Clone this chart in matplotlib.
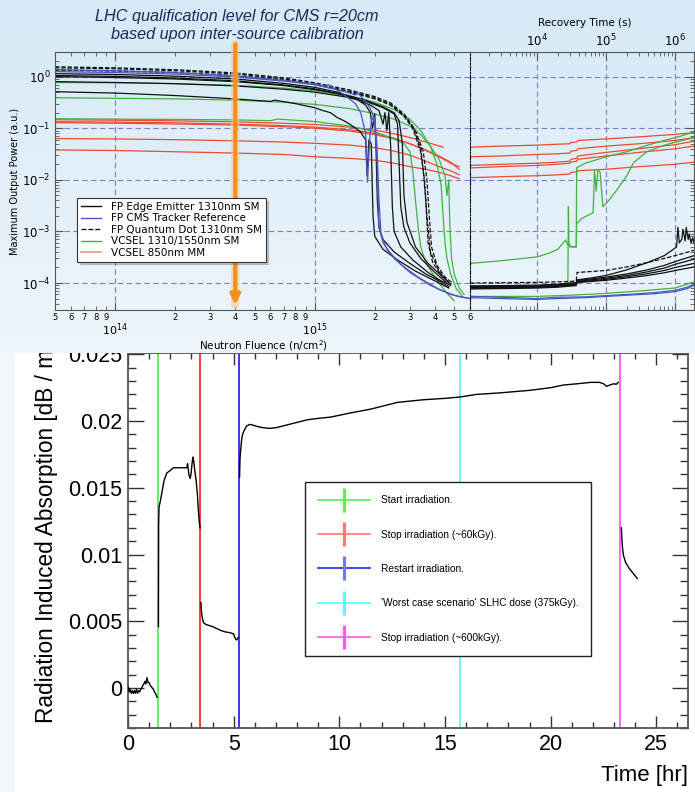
import numpy as np
import matplotlib
matplotlib.use("Agg")
import matplotlib.pyplot as plt
from matplotlib.lines import Line2D
from matplotlib.patches import Rectangle
from matplotlib.colors import LinearSegmentedColormap
from matplotlib.ticker import LogLocator, FuncFormatter, NullFormatter, MultipleLocator

W, H = 695, 792

#### top panel data: fluence in 1e14 n/cm^2, power in a.u. ####
# FP edge emitters (black solid)
edge_F = [
    [0.5, 1, 2, 4, 7, 10, 13, 16, 18, 19, 19.5, 20, 20.3, 20.6, 21, 22, 25, 30, 36, 42, 47],
    [0.5, 1, 2, 4, 7, 10, 13, 16, 19, 21, 22, 22.5, 23, 23.5, 24, 24.5, 25, 27, 31, 37, 43, 48],
    [0.5, 1, 2, 4, 7, 10, 14, 18, 22, 25, 26, 26.5, 27, 28, 30, 34, 40, 46],
    [0.5, 1, 2, 4, 6, 6.3, 8, 10, 11, 12, 13, 14, 15, 16, 17, 17.5, 18, 18.3, 18.7, 19.2, 19.6, 20, 22, 26, 32, 40, 47],
    [0.5, 1, 2, 4, 7, 10, 14, 18, 22, 25, 26.5, 27.5, 28, 29, 32, 37, 43, 48],
]
edge_P = [
    [1.14, 1.1, 1.02, 0.9, 0.74, 0.62, 0.5, 0.38, 0.28, 0.2, 0.1, 0.19, 0.04, 4e-3, 1.2e-3, 7e-4, 4e-4, 2.4e-4, 1.5e-4, 1.1e-4, 8.5e-5],
    [1.05, 1.01, 0.94, 0.83, 0.69, 0.58, 0.47, 0.37, 0.28, 0.22, 0.12, 0.2, 0.09, 0.2, 0.05, 3e-3, 1e-3, 5e-4, 2.8e-4, 1.6e-4, 1.1e-4, 9e-5],
    [0.8, 0.77, 0.73, 0.66, 0.57, 0.5, 0.41, 0.33, 0.25, 0.19, 0.12, 0.02, 3e-3, 1.2e-3, 6e-4, 3e-4, 1.6e-4, 1e-4],
    [0.51, 0.48, 0.43, 0.37, 0.33, 0.35, 0.3, 0.25, 0.22, 0.2, 0.16, 0.14, 0.12, 0.1, 0.085, 0.07, 0.06, 0.012, 0.06, 0.05, 2e-3, 8e-4, 4.5e-4, 2.8e-4, 1.7e-4, 1.1e-4, 8e-5],
    [1.0, 0.96, 0.9, 0.8, 0.67, 0.56, 0.45, 0.35, 0.26, 0.2, 0.14, 0.05, 5e-3, 1.5e-3, 5e-4, 2.4e-4, 1.4e-4, 9.5e-5],
]
# FP CMS tracker reference (blue)
cms_F = [
    [0.5, 1, 2, 4, 7, 10, 11.5, 11.7, 14, 16, 17, 18, 18.4, 18.8, 19.3, 20, 20.5, 21, 22, 25, 30, 38, 48, 60],
    [0.5, 1, 2, 4, 7, 10, 14, 16, 16.3, 18, 19, 20, 20.5, 21, 21.5, 23, 27, 33, 42, 52, 60],
]
cms_P = [
    [1.37, 1.3, 1.2, 1.03, 0.85, 0.72, 0.64, 0.7, 0.45, 0.3, 0.2, 0.08, 9e-3, 0.05, 0.17, 0.12, 0.03, 1.2e-3, 6e-4, 3e-4, 1.6e-4, 9e-5, 6e-5, 5e-5],
    [1.25, 1.2, 1.12, 0.98, 0.82, 0.7, 0.52, 0.44, 0.5, 0.33, 0.24, 0.15, 0.05, 4e-3, 9e-4, 4.5e-4, 2.3e-4, 1.3e-4, 7.5e-5, 5.5e-5, 5e-5],
]
# FP quantum dot (black dashed)
qd_F = [
    [0.5, 1, 2, 4, 7, 10, 15, 20, 24, 28, 31, 34, 35, 36, 37, 39, 43, 47],
    [0.5, 1, 2, 4, 7, 10, 15, 20, 24, 28, 32, 35, 36.5, 37.5, 38.5, 41, 45, 49],
    [0.5, 1, 2, 4, 7, 10, 15, 20, 24, 28, 31, 34, 35.5, 36.5, 38, 42, 46],
]
qd_P = [
    [1.55, 1.48, 1.36, 1.18, 0.95, 0.76, 0.55, 0.41, 0.31, 0.19, 0.11, 0.04, 0.015, 4e-3, 6e-4, 2.5e-4, 1.4e-4, 1.05e-4],
    [1.48, 1.42, 1.3, 1.13, 0.9, 0.72, 0.52, 0.39, 0.29, 0.18, 0.09, 0.035, 0.01, 2e-3, 5e-4, 2.2e-4, 1.3e-4, 1e-4],
    [1.33, 1.28, 1.2, 1.05, 0.86, 0.7, 0.5, 0.37, 0.28, 0.17, 0.1, 0.035, 0.01, 2e-3, 4e-4, 1.7e-4, 1.1e-4],
]
# VCSEL 1310/1550 SM (green)
vsm_F = [
    [0.5, 1, 2, 4, 7, 10, 15, 20, 25, 30, 34, 38, 41, 43, 44, 45, 46, 48, 51, 55],
    [0.5, 1, 2, 4, 7, 10, 15, 20, 25, 30, 34, 38, 42, 45, 46, 47, 47.5, 48.5, 50, 53, 56],
    [0.5, 1, 2, 4, 6, 6.5, 10, 15, 20, 25, 28, 30, 31, 32, 33, 34, 36, 40, 45, 50],
]
vsm_P = [
    [0.77, 0.76, 0.73, 0.68, 0.6, 0.53, 0.42, 0.32, 0.23, 0.15, 0.09, 0.045, 0.02, 8e-3, 2e-3, 6e-4, 3e-4, 1.5e-4, 8e-5, 5.5e-5],
    [0.39, 0.38, 0.37, 0.35, 0.32, 0.29, 0.24, 0.19, 0.15, 0.11, 0.075, 0.045, 0.025, 0.012, 5e-3, 0.01, 1.5e-3, 3e-4, 1.5e-4, 8e-5, 6e-5],
    [0.153, 0.15, 0.148, 0.145, 0.14, 0.15, 0.135, 0.11, 0.085, 0.062, 0.05, 0.035, 0.015, 4e-3, 1.2e-3, 5e-4, 2.5e-4, 1.3e-4, 7e-5, 4.5e-5],
]
# VCSEL 850nm MM (red)
vmm_F = [
    [0.5, 1, 2, 4, 7, 10, 15, 20, 25, 30, 35, 40, 44],
    [0.5, 1, 2, 4, 7, 10, 15, 20, 25, 30, 36, 42, 48, 53],
    [0.5, 1, 2, 4, 7, 10, 15, 20, 25, 30, 36, 42, 48, 53],
    [0.5, 1, 2, 4, 7, 10, 15, 20, 25, 30, 36, 42, 48, 53],
    [0.5, 1, 2, 4, 7, 10, 15, 20, 25, 30, 36, 42, 48, 53],
]
vmm_P = [
    [0.146, 0.143, 0.139, 0.133, 0.125, 0.118, 0.105, 0.092, 0.078, 0.066, 0.056, 0.048, 0.043],
    [0.134, 0.131, 0.127, 0.12, 0.112, 0.105, 0.093, 0.08, 0.064, 0.05, 0.037, 0.028, 0.021, 0.018],
    [0.128, 0.125, 0.121, 0.115, 0.107, 0.1, 0.088, 0.075, 0.062, 0.05, 0.038, 0.029, 0.022, 0.016],
    [0.063, 0.062, 0.06, 0.057, 0.054, 0.051, 0.047, 0.042, 0.036, 0.03, 0.023, 0.018, 0.015, 0.0125],
    [0.038, 0.037, 0.035, 0.033, 0.031, 0.028, 0.026, 0.024, 0.021, 0.018, 0.016, 0.014, 0.012, 0.0105],
]

#### recovery (right part), time in s ####
rec_t = [1070, 3e3, 1e4, 2e4, 3e4, 3.7e4, 3.8e4, 6e4, 1e5, 2e5, 4e5, 7e5, 1e6, 1.4e6, 1.88e6]
rec_edge_P = [
    [8.5e-5, 8.6e-5, 8.8e-5, 9.2e-5, 9.6e-5, 9.8e-5, 1.12e-4, 1.2e-4, 1.3e-4, 1.5e-4, 1.8e-4, 2.2e-4, 2.6e-4, 3e-4, 3.4e-4],
    [8.2e-5, 8.3e-5, 8.5e-5, 8.9e-5, 9.3e-5, 9.5e-5, 1.08e-4, 1.15e-4, 1.24e-4, 1.4e-4, 1.65e-4, 1.95e-4, 2.3e-4, 2.6e-4, 2.9e-4],
    [8e-5, 8.1e-5, 8.3e-5, 8.6e-5, 9e-5, 9.2e-5, 1.05e-4, 1.1e-4, 1.18e-4, 1.32e-4, 1.52e-4, 1.75e-4, 2e-4, 2.2e-4, 2.4e-4],
    [7.7e-5, 7.8e-5, 8e-5, 8.3e-5, 8.7e-5, 8.9e-5, 1.02e-4, 1.07e-4, 1.13e-4, 1.25e-4, 1.4e-4, 1.58e-4, 1.75e-4, 1.9e-4, 2.05e-4],
]
rec_noisy_t = [1070, 3e3, 1e4, 2e4, 3e4, 3.7e4, 3.8e4, 6e4, 1e5, 2e5, 4e5, 7e5, 9e5, 1.05e6, 1.1e6, 1.15e6,
               1.25e6, 1.3e6, 1.4e6, 1.45e6, 1.55e6, 1.6e6, 1.7e6, 1.8e6, 1.88e6]
rec_noisy_P = [8.8e-5, 8.9e-5, 9.1e-5, 9.5e-5, 1e-4, 1.02e-4, 1.15e-4, 1.25e-4, 1.4e-4, 1.8e-4, 2.5e-4, 3.4e-4, 4.3e-4,
               5e-4, 1.2e-3, 6e-4, 7e-4, 1.1e-3, 6.5e-4, 1.2e-3, 7e-4, 9e-4, 6e-4, 7.5e-4, 6e-4]
rec_qd_t = [1070, 1e4, 3e4, 3.7e4, 3.8e4, 1e5, 2e5, 4e5, 7e5, 1e6, 1.88e6]
rec_qd_P = [1e-4, 1.03e-4, 1.07e-4, 1.1e-4, 1.6e-4, 1.75e-4, 2.05e-4, 2.5e-4, 3e-4, 3.4e-4, 4.3e-4]
rec_cms_t = [1070, 3e3, 1e4, 2e4, 5e4, 1e5, 2e5, 5e5, 1e6, 1.5e6, 1.88e6]
rec_cms_P = [
    [5.2e-5, 5e-5, 4.8e-5, 5e-5, 5.2e-5, 5.5e-5, 5.8e-5, 6.2e-5, 6.8e-5, 7.8e-5, 9e-5],
    [5.5e-5, 5.3e-5, 5e-5, 5.3e-5, 5.4e-5, 5.7e-5, 6e-5, 6.5e-5, 7.2e-5, 8.3e-5, 9.5e-5],
]
rec_vsm_t = [
    [1070, 3e3, 1e4, 1.5e4, 2e4, 2.6e4, 2.8e4, 3.3e4, 3.7e4, 3.75e4, 5e4, 1e5, 2e5, 4e5, 7e5, 1.2e6, 1.88e6],
    [1070, 3e3, 1e4, 2e4, 2.8e4, 2.85e4, 2.9e4, 3e4, 3.7e4, 3.75e4, 4.5e4, 6.5e4, 6.8e4, 7.2e4, 7.6e4, 8.2e4, 9e4,
     1.1e5, 1.44e5, 2e5, 2.5e5, 3.9e5, 7e5, 1.2e6, 1.88e6],
    [1070, 1e4, 3e4, 1e5, 3e5, 1e6, 1.88e6],
]
rec_vsm_P = [
    [2.4e-4, 2.7e-4, 3.2e-4, 3.8e-4, 4.5e-4, 6.8e-4, 5.5e-4, 5e-4, 5e-4, 0.017, 0.021, 0.028, 0.035, 0.047, 0.058, 0.07, 0.085],
    [7.8e-5, 7.9e-5, 8.2e-5, 8.8e-5, 9.5e-5, 3e-3, 6e-4, 5e-4, 5e-4, 1.4e-3, 1.8e-3, 2.3e-3, 0.0156, 0.006, 0.0156, 0.014,
     3e-3, 4e-3, 6.4e-3, 0.012, 0.0215, 0.035, 0.047, 0.057, 0.065],
    [5.5e-5, 5.5e-5, 5.8e-5, 6.3e-5, 7e-5, 8e-5, 1.05e-4],
]
rec_vmm_t = [1070, 3e3, 1e4, 2e4, 3e4, 3.1e4, 3.8e4, 3.9e4, 1e5, 3e5, 1e6, 1.88e6]
rec_vmm_P = [
    [0.043, 0.045, 0.047, 0.049, 0.05, 0.053, 0.054, 0.058, 0.062, 0.068, 0.076, 0.082],
    [0.028, 0.029, 0.031, 0.032, 0.033, 0.036, 0.037, 0.04, 0.045, 0.05, 0.058, 0.066],
    [0.019, 0.02, 0.021, 0.022, 0.023, 0.025, 0.026, 0.029, 0.034, 0.04, 0.048, 0.056],
    [0.017, 0.018, 0.019, 0.02, 0.021, 0.022, 0.023, 0.025, 0.029, 0.034, 0.04, 0.045],
    [0.011, 0.0115, 0.012, 0.0125, 0.013, 0.014, 0.0142, 0.015, 0.016, 0.018, 0.02, 0.022],
]
top_labels = ["FP Edge Emitter 1310nm SM", "FP CMS Tracker Reference", "FP Quantum Dot 1310nm SM",
              "VCSEL 1310/1550nm SM", "VCSEL 850nm MM"]
qual_fluence = 4e14

#### bottom panel data: time [hr], absorption [dB/m] ####
seg_t = [
    [0.0, 0.05, 0.1, 0.15, 0.2, 0.25, 0.3, 0.35, 0.4, 0.45, 0.5, 0.55, 0.6, 0.65, 0.7, 0.75, 0.8, 0.85, 0.9,
     0.95, 1.0, 1.05, 1.1, 1.15, 1.2, 1.25, 1.3, 1.35, 1.38],
    [1.44, 1.45, 1.47, 1.52, 1.6, 1.7, 1.83, 2.0, 2.15, 2.4, 2.6, 2.78, 2.82, 2.88, 2.94, 2.98, 3.03, 3.07, 3.11,
     3.16, 3.22, 3.28, 3.33, 3.37, 3.41],
    [3.45, 3.47, 3.5, 3.55, 3.6, 3.7, 3.8, 4.0, 4.2, 4.4, 4.6, 4.8, 5.0, 5.05, 5.1, 5.15, 5.2, 5.23],
    [5.28, 5.3, 5.33, 5.37, 5.42, 5.5, 5.6, 5.75, 5.9, 6.1, 6.4, 6.7, 7.0, 7.5, 8.0, 8.5, 9.0, 9.6, 10.5, 11.5,
     12.75, 14.0, 15.0, 15.7, 16.5, 17.5, 19.0, 20.0, 20.6, 21.3, 21.9, 22.3, 22.5, 22.65, 22.8, 23.0, 23.1, 23.2],
    [23.35, 23.37, 23.4, 23.45, 23.55, 23.7, 23.85, 24.0, 24.1],
]
seg_a = [
    [0.0001, -0.0003, -0.0001, -0.0004, -0.0002, -0.0004, -0.0002, -0.0004, -0.0001, -0.0004, -0.0002, -0.0003,
     -0.0001, 0.0, 0.0002, 0.0003, 0.0005, 0.0003, 0.00077, 0.0004, 0.0004, 0.0002, 0.0001, 0.0, -0.0001,
     -0.0003, -0.0004, -0.0006, -0.0007],
    [0.0046, 0.0122, 0.0136, 0.0139, 0.0146, 0.0155, 0.0161, 0.0163, 0.0165, 0.0165, 0.0165, 0.0165, 0.0168,
     0.0160, 0.0157, 0.0160, 0.0168, 0.0173, 0.0170, 0.0163, 0.0156, 0.0146, 0.0133, 0.0125, 0.0120],
    [0.0064, 0.0059, 0.0054, 0.0050, 0.00485, 0.00475, 0.0047, 0.0046, 0.00445, 0.0043, 0.0042, 0.00415, 0.00405,
     0.0038, 0.00365, 0.0036, 0.00375, 0.0038],
    [0.0158, 0.0172, 0.0178, 0.0185, 0.0190, 0.0193, 0.0196, 0.01975, 0.0197, 0.0196, 0.0195, 0.01945, 0.0195,
     0.0197, 0.0199, 0.0201, 0.0202, 0.0203, 0.0206, 0.0209, 0.0214, 0.0216, 0.0217, 0.0218, 0.0220, 0.0221,
     0.0223, 0.0225, 0.0227, 0.0228, 0.0229, 0.0229, 0.0228, 0.0226, 0.0227, 0.0228, 0.02275, 0.0229],
    [0.0120, 0.0112, 0.0105, 0.0099, 0.0094, 0.0090, 0.0087, 0.0084, 0.0082],
]
event_t = [1.41, 3.41, 5.26, 15.73, 23.27]
event_labels = ["Start irradiation.", "Stop irradiation (~60kGy).", "Restart irradiation.",
                "'Worst case scenario' SLHC dose (375kGy).", "Stop irradiation (~600kGy)."]
event_colors = ["#5de85d", "#ff2a2a", "#2a2ad8", "#66f6f6", "#ff55ff"]
event_leg_line = ["#55ee55", "#ff7777", "#2222dd", "#55ffff", "#ff55ff"]
event_leg_bar = ["#55ee55", "#ff7777", "#7777ff", "#55ffff", "#ff55ff"]
b_xticks = [0, 5, 10, 15, 20, 25]
b_yticks = [0, 0.005, 0.01, 0.015, 0.02, 0.025]
b_yticklabels = ["0", "0.005", "0.01", "0.015", "0.02", "0.025"]


def box(x0, y0, x1, y1):
    #pixel box -> figure fraction rect
    return [x0 / W, 1 - y1 / H, (x1 - x0) / W, (y1 - y0) / H]


fig = plt.figure(figsize=(W / 100, H / 100), dpi=100)
fig.patch.set_facecolor("#f1f6fb")
fig.add_artist(Rectangle((15 / W, 0), 1, 1 - 353 / H, transform=fig.transFigure,
                         facecolor="white", edgecolor="none", zorder=-5))

#####BOTTOM PANEL#####
axB = fig.add_axes(box(128, 353, 688, 728), zorder=1)
axB.set_facecolor("none")
for k in range(len(seg_t)):
    axB.plot(seg_t[k], seg_a[k], color="black", lw=1.0, zorder=3)
for t, c in zip(event_t, event_colors):
    axB.axvline(t, color=c, lw=1.3, zorder=2)
axB.set_xlim(0, 26.5)
axB.set_ylim(-0.003, 0.0251)
axB.set_xticks(b_xticks, labels=[str(v) for v in b_xticks], fontfamily="Liberation Sans", fontsize=15.5)
axB.set_yticks(b_yticks, labels=b_yticklabels, fontfamily="Liberation Sans", fontsize=15.5)
axB.xaxis.set_minor_locator(MultipleLocator(1))
axB.yaxis.set_minor_locator(MultipleLocator(0.001))
axB.tick_params(which="both", direction="in", top=True, right=True, color="#333333")
axB.tick_params(axis="x", which="major", length=8.5, width=1, pad=4)
axB.tick_params(axis="x", which="minor", length=4, width=1)
axB.tick_params(axis="y", which="major", length=11.5, width=1, pad=4)
axB.tick_params(axis="y", which="minor", length=6, width=1)
for s in axB.spines.values():
    s.set_color("#555555")
    s.set_linewidth(1.3)

handles = [Line2D([], [], color=lc, lw=1.2, marker="|", markersize=17, markeredgewidth=2.3,
                  markeredgecolor=bc) for lc, bc in zip(event_leg_line, event_leg_bar)]
legB = axB.legend(handles, event_labels, loc="upper left", bbox_to_anchor=(305 / W, 1 - 482 / H),
                  bbox_transform=fig.transFigure, prop={"family": "Liberation Sans", "size": 7.3},
                  handlelength=5.1, handletextpad=1.05, labelspacing=2.4, borderpad=1.3,
                  borderaxespad=0, fancybox=False, framealpha=1, edgecolor="#222222", numpoints=1)
legB.get_frame().set_linewidth(1.0)
legB.set_zorder(10)

fig.text(47 / W, 1 - 723 / H, "Radiation Induced Absorption [dB / m]", rotation=90, ha="center",
         va="bottom", fontsize=16.3, family="Liberation Sans", zorder=1.5)
fig.text(688 / W, 1 - 776 / H, "Time [hr]", ha="right", va="center", fontsize=16,
         family="Liberation Sans")

#####TOP PANEL BACKGROUND#####
bg = fig.add_axes(box(0, 0, W, 353), zorder=2)
grad = np.linspace(0, 1, 256).reshape(-1, 1)
bg.imshow(grad, aspect="auto", extent=[0, 1, 0, 1],
          cmap=LinearSegmentedColormap.from_list("bg", ["#d5e9f6", "#eef5fb"]))
bg.set_axis_off()

black = "#111111"
blue = "#4a58bd"
green = "#3fb23f"
red = "#f04a30"
gridc = "#7b80c8"

#####TOP LEFT: fluence#####
axL = fig.add_axes(box(55, 52, 470, 310), zorder=3)
axL.set_facecolor("none")
axL.set_xscale("log")
axL.set_yscale("log")
for F, P in zip(vmm_F, vmm_P):
    axL.plot(np.array(F) * 1e14, P, color=red, lw=0.9)
for F, P in zip(vsm_F, vsm_P):
    axL.plot(np.array(F) * 1e14, P, color=green, lw=0.9)
for F, P in zip(edge_F, edge_P):
    axL.plot(np.array(F) * 1e14, P, color=black, lw=0.9)
for F, P in zip(qd_F, qd_P):
    axL.plot(np.array(F) * 1e14, P, color=black, lw=0.9, ls=(0, (3.5, 1.5)))
for F, P in zip(cms_F, cms_P):
    axL.plot(np.array(F) * 1e14, P, color=blue, lw=0.9)
axL.set_xlim(5e13, 6.001e15)
axL.set_ylim(3e-5, 3)
axL.xaxis.set_major_locator(LogLocator(base=10, numticks=10))
axL.xaxis.set_minor_locator(LogLocator(base=10, subs=np.arange(2, 10), numticks=100))
axL.xaxis.set_minor_formatter(FuncFormatter(
    lambda v, p: "%d" % round(v / 10 ** np.floor(np.log10(v) + 1e-9))))
axL.yaxis.set_major_locator(LogLocator(base=10, numticks=10))
axL.yaxis.set_minor_locator(LogLocator(base=10, subs=np.arange(2, 10), numticks=100))
axL.yaxis.set_minor_formatter(NullFormatter())
axL.tick_params(which="both", direction="in", top=True, right=False, color="#555555")
axL.tick_params(which="major", length=6, width=0.8)
axL.tick_params(which="minor", length=3, width=0.6)
axL.tick_params(axis="x", which="major", labelsize=8, pad=8.5)
axL.tick_params(axis="x", which="minor", labelsize=6, pad=2.5)
axL.tick_params(axis="y", which="major", labelsize=8.5, pad=3)
axL.grid(which="major", ls=(0, (5, 3)), color=gridc, lw=0.8)
axL.spines["right"].set_visible(False)
for s in ["left", "top", "bottom"]:
    axL.spines[s].set_color("#555555")

#orange arrow at the qualification fluence
axL.annotate("", xy=(qual_fluence, 0.02), xycoords=("data", "axes fraction"),
             xytext=(qual_fluence, 1.03), textcoords=("data", "axes fraction"),
             arrowprops=dict(arrowstyle="-", color="#f8c98f", lw=6, alpha=0.6, shrinkA=0, shrinkB=0),
             annotation_clip=False)
axL.annotate("", xy=(qual_fluence, 0.02), xycoords=("data", "axes fraction"),
             xytext=(qual_fluence, 1.03), textcoords=("data", "axes fraction"),
             arrowprops=dict(arrowstyle="-|>", color="#f0901e", lw=3, mutation_scale=14,
                             shrinkA=0, shrinkB=0),
             annotation_clip=False)

top_handles = [Line2D([], [], color=black, lw=1), Line2D([], [], color=blue, lw=1),
               Line2D([], [], color=black, lw=1, ls=(0, (3.5, 1.5))), Line2D([], [], color=green, lw=1),
               Line2D([], [], color="#f4a3a3", lw=1.5)]
legT = axL.legend(top_handles, top_labels, loc="upper left", bbox_to_anchor=(77 / W, 1 - 198 / H),
                  bbox_transform=fig.transFigure, fontsize=7.5, handlelength=2.0, handletextpad=0.9,
                  labelspacing=0.15, borderpad=0.35, borderaxespad=0, fancybox=False, framealpha=1,
                  edgecolor="#333333", shadow={"ox": 2, "oy": -2, "alpha": 0.25})
legT.get_frame().set_linewidth(0.8)

#####TOP RIGHT: recovery time#####
axR = fig.add_axes(box(470, 52, 694, 310), zorder=3)
axR.set_facecolor("none")
axR.set_xscale("log")
axR.set_yscale("log")
for P in rec_vmm_P:
    axR.plot(rec_vmm_t, P, color=red, lw=0.9)
for t, P in zip(rec_vsm_t, rec_vsm_P):
    axR.plot(t, P, color=green, lw=0.9)
for P in rec_edge_P:
    axR.plot(rec_t, P, color=black, lw=0.9)
axR.plot(rec_noisy_t, rec_noisy_P, color=black, lw=0.9)
axR.plot(rec_qd_t, rec_qd_P, color=black, lw=0.9, ls=(0, (3.5, 1.5)))
for P in rec_cms_P:
    axR.plot(rec_cms_t, P, color=blue, lw=0.9)
axR.set_xlim(1070, 1.88e6)
axR.set_ylim(3e-5, 3)
axR.xaxis.set_major_locator(LogLocator(base=10, numticks=10))
axR.xaxis.set_minor_locator(LogLocator(base=10, subs=np.arange(2, 10), numticks=100))
axR.xaxis.set_minor_formatter(NullFormatter())
axR.yaxis.set_major_locator(LogLocator(base=10, numticks=10))
axR.yaxis.set_minor_locator(LogLocator(base=10, subs=np.arange(2, 10), numticks=100))
axR.yaxis.set_minor_formatter(NullFormatter())
axR.tick_params(which="both", direction="in", top=True, bottom=True, left=False, right=True,
                labelleft=False, labelright=False, labelbottom=False, labeltop=True, color="#555555")
axR.tick_params(which="major", length=6, width=0.8, labelsize=8.5, pad=2)
axR.tick_params(which="minor", length=3, width=0.6)
axR.grid(which="major", ls=(0, (5, 3)), color=gridc, lw=0.8)
axR.spines["left"].set_linestyle((0, (4, 1.5, 1, 1.5)))
axR.spines["left"].set_color("black")
axR.spines["left"].set_linewidth(0.8)
for s in ["right", "top", "bottom"]:
    axR.spines[s].set_color("#555555")

#####TOP TEXTS#####
fig.text(237 / W, 1 - 16 / H, "LHC qualification level for CMS r=20cm", ha="center", va="center",
         fontsize=11.7, style="italic", color="#1c2a5c", family="Liberation Sans")
fig.text(237 / W, 1 - 35 / H, "based upon inter-source calibration", ha="center", va="center",
         fontsize=11.7, style="italic", color="#1c2a5c", family="Liberation Sans")
fig.text(15 / W, 1 - 181 / H, "Maximum Output Power (a.u.)", rotation=90, ha="center", va="center",
         fontsize=7)
fig.text(264 / W, 1 - 346 / H, "Neutron Fluence (n/cm$^2$)", ha="center", va="center", fontsize=7.5)
fig.text(585 / W, 1 - 23 / H, "Recovery Time (s)", ha="center", va="center", fontsize=7.5)

fig.savefig("out.png", dpi=100, facecolor=fig.get_facecolor())
